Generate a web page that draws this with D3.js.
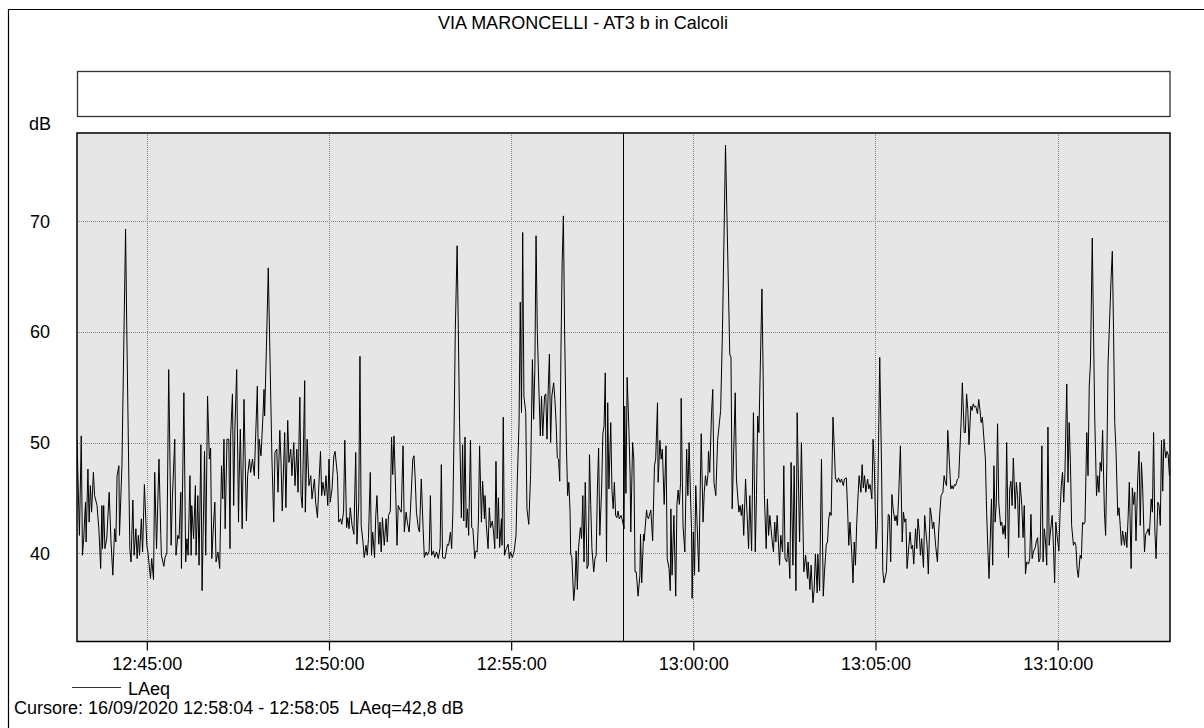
<!DOCTYPE html>
<html><head><meta charset="utf-8">
<script src="https://cdn.jsdelivr.net/npm/d3@7"></script>
<style>body{margin:0;background:#fff}svg{display:block}text{font-family:"Liberation Sans",Arial,sans-serif}</style>
</head><body><svg id="c" width="1204" height="728"></svg>
<script>
const chartTitle = "VIA MARONCELLI - AT3 b in Calcoli";
const yLabel = "dB";
const seriesName = "LAeq";
const cursorText = "Cursore: 16/09/2020 12:58:04 - 12:58:05  LAeq=42,8 dB";
const startTime = new Date(2020, 8, 16, 12, 43, 5);
const endTime = new Date(2020, 8, 16, 13, 13, 5);
const cursorTime = new Date(2020, 8, 16, 12, 58, 4);
const yDomain = [32, 78];
const yTicks = [40, 50, 60, 70];

// seconds after 12:43:05
const seconds = [
0,4,7,9,11,14,15,18,20,22,
24,27,29,33,36,39,41,42,44,46,
49,53,56,59,62,64,66,69,70,74,
80,82,87,89,92,94,97,99,101,103,
106,108,111,115,117,121,123,126,128,131,
135,138,139,143,145,148,151,155,157,161,
163,166,168,171,172,176,179,181,183,186,
188,189,192,195,196,199,201,204,206,209,
210,212,215,218,220,222,225,227,229,232,
235,238,240,242,244,247,250,252,253,256,
258,260,263,266,267,269,272,275,279,281,
284,286,289,292,297,299,300,303,
306,308,309,312,315,318,321,324,326,329,
331,334,336,338,342,344,347,349,352,354,
357,359,362,364,367,369,371,375,376,379,
382,385,387,391,393,396,398,401,403,405,
408,410,413,415,417,420,423,425,429,431,
434,436,439,441,444,446,448,450,453,456,
459,461,464,466,468,471,473,476,478,480,
483,485,487,490,492,494,497,499,501,503,
506,509,511,513,516,518,520,522,525,527,
529,532,534,537,539,542,544,547,549,553,
555,557,559,562,564,567,570,572,575,577,
580,582,584,587,589,592,595,598,600,602,
606,608,610,612,615,617,619,621,623,626,
628,630,633,635,637,639,641,643,645,648,
650,652,655,657,659,661,663,666,668,671,
672,674,677,679,681,684,686,688,690,692,
694,696,699,700,702,704,707,710,712,714,
717,720,723,725,728,730,732,734,736,739,
741,744,745,747,750,752,754,756,758,761,
763,765,767,770,772,774,776,778,780,782,
785,787,789,791,793,795,797,799,801,803,
806,808,810,812,813,815,818,820,822,824,
826,829,831,833,835,837,840,842,844,846,
848,851,853,855,857,859,861,864,866,868,
870,872,874,876,879,881,883,885,887,889,
891,893,896,898,901,902,904,
906,909,911,912,915,917,919,921,924,927,
928,930,933,934,938,939,941,945,948,951,
953,956,957,960,962,964,967,970,972,975,
977,978,980,983,986,988,990,992,994,995,
998,1001,1004,1006,1008,1010,1012,1013,1015,1017,
1019,1024,1028,1031,1033,1035,1037,1039,1040,1042,
1045,1047,1049,1052,1055,1060,1063,1068,1075,1077,
1079,1084,1086,1090,1092,1094,1096,1098,1101,1106,
1108,1111,1114,1117,1119,1121,1123,1128,1130,1132,
1135,1137,1139,1141,1143,1145,1147,1149,1151,1153,
1157,1159,1162,1164,1166,1169,1171,1174,1176,1179,
1181,1184,1186,1190,1193,1197,1200,1203,1204,
1207,1209,1212,1214,1216,1219,1220,1223,1226,1229,
1231,1234,1236,1238,1240,1242,1245,1247,1249,1252,
1254,1257,1259,1262,1264,1267,1269,1271,1273,1276,
1278,1280,1282,1284,1286,1288,1291,1293,1295,1297,
1299,1302,1304,1306,1309,1311,1313,1316,1318,1320,
1322,1325,1327,1329,1331,1333,1336,1338,1340,1342,
1344,1347,1349,1351,1353,1356,1359,1361,1363,1365,
1367,1370,1372,1374,1376,1378,1381,1383,1385,1387,
1389,1391,1394,1396,1398,1400,1402,1405,1407,1409,
1411,1414,1417,1419,1421,1423,1426,1428,1430,1432,
1434,1437,1439,1441,1443,1445,1447,1450,1452,1454,
1456,1458,1461,1463,1465,1467,1469,1472,1474,1476,
1478,1480,1483,1485,1487,1489,1491,1494,1496,1498,
1500,1502,
1506,1508,1510,1512,1514,1516,1518,1521,1523,1525,
1527,1529,1531,1534,1536,1538,1540,1542,1545,1547,
1549,1551,1553,1556,1558,1560,1562,1564,1567,1569,
1571,1573,1575,1578,1580,1582,1584,1586,1589,1591,
1593,1595,1597,1599,1601,1603,1606,1608,1610,1612,
1614,1617,1619,1621,1623,1625,1627,1630,1632,1634,
1636,1638,1641,1643,1645,1647,1649,1652,1654,1656,
1658,1660,1663,1665,1667,1669,1672,1674,1676,1679,
1681,1683,1685,1687,1689,1692,1694,1696,1698,1700,
1703,1705,1707,1709,1711,1714,1716,1718,1720,1722,
1725,1727,1729,1731,1733,1736,1738,1740,1742,1744,
1747,1749,1751,1753,1755,1758,1760,1762,1764,1766,
1769,1771,1773,1775,1777,1780,1782,1784,1786,1788,
1790,1793,1795,1797,1799
];

// LAeq values, dB
const laeq = [
50.3,41.6,50.6,39.8,41.3,44.6,41.0,47.6,42.8,46.1,
43.7,47.3,45.2,44.3,42.2,38.6,44.3,40.4,44.3,40.4,
41.3,45.5,41.0,38.0,42.2,41.0,47.0,47.9,41.6,47.9,
69.3,60.2,40.4,39.2,44.8,39.8,42.2,39.5,41.6,39.8,
43.1,40.1,46.2,40.7,40.0,37.7,39.5,37.6,47.3,40.4,
48.5,41.6,39.8,38.8,39.6,40.0,56.6,40.7,44.9,50.3,
39.8,41.6,41.3,45.5,38.6,54.5,39.2,41.3,39.8,47.0,
39.8,44.3,41.3,46.1,39.8,45.2,38.9,49.8,36.6,45.5,
49.2,39.8,54.2,48.5,49.5,39.5,42.8,44.6,39.2,40.1,
38.6,47.9,44.9,50.3,42.2,50.3,50.3,40.4,50.6,54.4,
44.3,51.2,56.6,42.8,46.7,51.2,42.2,53.9,42.9,47.0,
48.5,47.3,48.5,47.0,55.1,46.7,50.3,48.8,
52.1,54.8,52.4,58.7,65.8,57.2,48.6,42.8,49.1,49.4,
45.5,51.1,48.2,43.8,50.9,44.1,52.0,48.2,49.4,47.0,
50.0,46.1,49.4,45.5,54.1,45.2,44.1,55.6,43.7,50.3,
46.1,47.0,44.9,46.7,44.6,43.2,45.8,49.2,45.2,46.4,
45.2,47.0,44.3,48.5,44.6,45.8,48.8,49.2,47.0,42.8,
43.1,42.6,43.7,50.2,42.3,43.2,42.2,44.1,42.5,41.7,
49.1,40.8,44.6,57.8,42.5,41.0,39.6,40.7,39.8,41.3,
47.3,39.8,41.9,39.6,43.4,45.2,40.8,42.8,40.1,43.2,
40.7,43.1,41.0,43.4,43.8,50.5,47.1,50.6,45.2,40.7,
44.3,43.9,43.7,49.7,41.9,43.7,42.8,41.9,43.7,48.5,
48.8,46.7,43.7,42.3,41.9,46.7,42.2,39.6,40.1,39.8,
40.2,45.2,39.8,40.2,39.6,40.1,39.5,40.5,48.0,39.6,
39.5,40.1,40.8,40.7,41.9,40.4,43.7,51.2,60.2,67.8,
60.2,51.8,43.2,49.8,42.9,50.5,42.3,44.0,41.6,50.2,
42.3,42.2,39.5,40.2,40.1,42.8,49.7,42.8,46.5,43.1,
45.2,42.6,40.4,44.1,42.3,42.9,41.9,40.4,48.3,41.3,
45.0,40.5,43.1,40.7,52.3,39.8,40.4,40.8,39.5,40.1,
39.6,40.2,41.6,46.4,51.8,62.7,52.7,69.0,54.2,52.7,
44.0,42.6,44.0,47.1,57.5,52.1,56.6,68.7,60.2,54.2,
50.6,54.2,50.6,54.2,54.4,50.3,54.8,58.0,50.0,54.2,
55.4,53.9,51.8,48.6,48.5,46.5,58.4,66.3,70.5,60.2,
49.7,45.2,46.4,43.7,39.9,39.6,35.7,37.0,40.2,36.7,
40.5,42.3,41.3,45.2,39.2,46.4,38.6,38.9,48.9,44.4,
40.4,38.3,39.5,39.8,45.7,49.5,41.6,45.8,50.8,51.5,
56.3,39.2,53.6,45.8,51.8,45.7,44.0,46.4,43.4,43.2,
43.8,43.1,43.4,43.0,42.2,53.3,45.4,
55.9,51.1,46.7,41.9,50.0,48.5,38.3,38.3,36.1,38.0,
41.7,37.3,41.7,41.1,43.9,43.4,43.1,43.9,41.1,47.9,
48.5,53.6,46.4,50.2,48.5,49.4,44.4,49.7,39.5,38.6,
36.6,44.0,38.0,43.4,36.1,44.4,45.7,44.4,46.4,54.0,
42.5,40.1,49.4,45.2,50.0,45.8,42.2,35.9,41.9,38.0,
46.1,38.3,50.8,42.8,45.5,47.0,46.1,47.0,49.2,47.3,
52.7,54.8,46.4,45.2,50.2,52.9,60.2,76.9,58.0,57.7,
44.0,54.5,46.7,43.7,44.3,43.4,44.4,41.6,46.7,40.4,
45.2,40.2,52.7,40.1,45.2,52.4,50.9,63.9,55.9,45.2,
40.4,44.9,41.6,43.4,42.2,41.0,40.1,42.8,41.0,43.4,
38.9,41.6,40.1,47.9,39.5,39.2,41.0,37.7,48.2,38.9,
47.9,36.6,52.7,41.0,50.0,38.3,39.8,37.7,39.2,
36.7,38.9,35.5,36.7,39.9,36.4,39.9,36.6,48.5,36.1,
38.3,40.8,41.0,43.1,43.7,43.4,52.3,49.7,46.8,46.4,
46.8,46.4,46.7,46.1,46.7,46.8,44.0,40.7,42.8,39.9,
37.3,41.0,38.9,42.6,44.9,47.0,45.5,48.0,45.9,47.0,
45.5,46.7,45.8,46.2,44.9,50.3,47.9,40.4,42.5,50.0,
57.7,47.6,38.4,37.3,37.8,38.3,43.5,43.4,39.2,45.3,
44.0,42.9,43.4,42.5,44.9,49.7,41.0,43.7,42.8,43.1,
38.6,40.7,41.9,40.4,40.7,39.0,42.2,40.4,43.1,41.9,
39.8,41.3,38.7,43.4,42.0,40.7,38.1,44.1,43.4,42.2,
42.8,40.7,39.2,41.9,43.7,45.2,45.5,47.0,46.4,46.1,
51.1,47.9,45.8,46.1,45.8,46.2,46.1,46.7,46.8,49.4,
51.8,55.4,50.9,50.9,54.4,53.0,49.8,53.3,52.9,53.5,
53.2,53.3,52.6,53.9,53.0,51.8,52.3,50.0,48.5,43.7,
40.4,37.7,
44.9,38.9,47.9,42.8,44.6,51.7,44.6,42.5,42.8,41.7,
42.5,41.3,50.0,39.6,45.8,46.5,44.3,48.6,44.0,46.4,
45.2,41.4,46.4,44.3,41.4,44.3,38.1,39.2,39.0,39.5,
43.5,39.5,40.1,40.5,41.1,41.4,39.2,39.5,49.7,39.2,
42.2,41.0,38.9,51.4,40.7,41.9,43.4,40.7,37.3,42.8,
41.6,40.2,43.7,46.1,47.3,44.6,47.3,55.3,46.4,51.8,
48.2,42.5,40.7,41.0,40.7,38.6,37.8,39.8,39.5,42.8,
42.6,42.8,50.9,47.0,55.1,57.2,68.5,60.2,52.4,45.2,
47.0,45.5,48.2,47.4,51.1,43.7,41.6,48.2,57.2,60.2,
64.9,67.3,60.2,51.8,49.4,43.4,44.1,42.5,40.7,42.0,
40.7,41.9,40.5,43.2,46.4,38.6,45.9,44.4,45.5,41.1,
47.0,49.2,42.5,48.2,45.8,40.1,41.7,41.9,42.2,41.6,
44.9,43.7,50.9,42.2,39.5,44.6,44.3,42.5,50.2,45.6,
50.3,48.6,49.2,48.9,47.0
];

if (seconds.length !== laeq.length) console.error("length mismatch", seconds.length, laeq.length);

const data = seconds.map((s, i) => ({ date: new Date(startTime.getTime() + s * 1000), v: laeq[i] }));

const svg = d3.select("#c");
const L = 77, R = 1170, T = 133, B = 641.5;
const x = d3.scaleTime().domain([startTime, endTime]).range([L, R]);
const y = d3.scaleLinear().domain(yDomain).range([B, T]);
const FS = 18;

// outer frame
svg.append("path").attr("d", "M8.5,728 V9.5 H1204").attr("fill", "none").attr("stroke", "#000").attr("stroke-width", 1.2);

// title
svg.append("text").attr("x", 583).attr("y", 29).attr("text-anchor", "middle")
  .attr("font-size", FS).attr("fill", "#000").text(chartTitle);

// legend box (empty)
svg.append("rect").attr("x", 77.5).attr("y", 71.5).attr("width", R - L - 0.5).attr("height", 45)
  .attr("fill", "#fff").attr("stroke", "#333").attr("stroke-width", 1.3);

// plot background
svg.append("rect").attr("x", L).attr("y", T).attr("width", R - L).attr("height", B - T).attr("fill", "#e6e6e6");

const xTicks = x.ticks(d3.timeMinute.every(5));

// grid
svg.append("g").selectAll("line").data(yTicks).join("line")
  .attr("x1", L).attr("x2", R).attr("y1", d => Math.round(y(d)) + 0.5).attr("y2", d => Math.round(y(d)) + 0.5)
  .attr("stroke", "#808080").attr("stroke-dasharray", "1,1").attr("stroke-width", 1);
svg.append("g").selectAll("line").data(xTicks).join("line")
  .attr("y1", T).attr("y2", B).attr("x1", d => Math.round(x(d)) + 0.5).attr("x2", d => Math.round(x(d)) + 0.5)
  .attr("stroke", "#808080").attr("stroke-dasharray", "1,1").attr("stroke-width", 1);

// clip
svg.append("clipPath").attr("id", "clip").append("rect").attr("x", L).attr("y", T).attr("width", R - L).attr("height", B - T);

// series line
const line = d3.line().x(d => x(d.date)).y(d => y(d.v));
svg.append("path").datum(data).attr("clip-path", "url(#clip)")
  .attr("d", line).attr("fill", "none").attr("stroke", "#000").attr("stroke-width", 1);

// cursor
svg.append("line").attr("x1", Math.round(x(cursorTime)) + 0.5).attr("x2", Math.round(x(cursorTime)) + 0.5)
  .attr("y1", T).attr("y2", B).attr("stroke", "#000").attr("stroke-width", 1);

// plot border
svg.append("rect").attr("x", L).attr("y", T).attr("width", R - L).attr("height", B - T)
  .attr("fill", "none").attr("stroke", "#000").attr("stroke-width", 1.5);

// x axis
const xAxis = d3.axisBottom(x).tickValues(xTicks).tickFormat(d3.timeFormat("%H:%M:%S")).tickSize(9).tickPadding(7);
const gx = svg.append("g").attr("transform", `translate(0,${B})`).call(xAxis);
gx.select(".domain").remove();
gx.selectAll(".tick line").attr("stroke", "#000").attr("stroke-width", 1.2);
gx.selectAll(".tick text").attr("font-size", FS).attr("fill", "#000").attr("font-family", "Liberation Sans, Arial, sans-serif");

// y labels
svg.append("g").selectAll("text").data(yTicks).join("text")
  .attr("x", 50).attr("y", d => y(d)).attr("dy", "0.36em").attr("text-anchor", "end")
  .attr("font-size", FS).attr("fill", "#000").text(d => d);
svg.append("text").attr("x", 29).attr("y", 130).attr("font-size", FS).attr("fill", "#000").text(yLabel);

// legend entry
svg.append("line").attr("x1", 72).attr("x2", 121).attr("y1", 687.5).attr("y2", 687.5).attr("stroke", "#333").attr("stroke-width", 1);
svg.append("text").attr("x", 128).attr("y", 695).attr("font-size", FS).attr("fill", "#000").text(seriesName);

// cursor readout
svg.append("text").attr("x", 14).attr("y", 714).attr("font-size", FS).attr("fill", "#000")
  .style("white-space", "pre").text(cursorText);
</script></body></html>
